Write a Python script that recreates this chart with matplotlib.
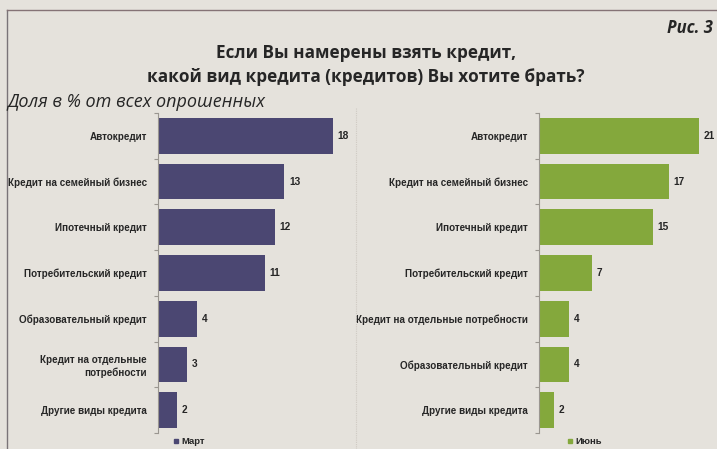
import matplotlib
matplotlib.use("Agg")
import matplotlib.pyplot as plt
from matplotlib.lines import Line2D

# ---- data ----
cats_march = ["Автокредит", "Кредит на семейный бизнес", "Ипотечный кредит",
              "Потребительский кредит", "Образовательный кредит",
              "Кредит на отдельные\nпотребности", "Другие виды кредита"]
vals_march = [18, 13, 12, 11, 4, 3, 2]

cats_june = ["Автокредит", "Кредит на семейный бизнес", "Ипотечный кредит",
             "Потребительский кредит", "Кредит на отдельные потребности",
             "Образовательный кредит", "Другие виды кредита"]
vals_june = [21, 17, 15, 7, 4, 4, 2]

series_names = ["Март", "Июнь"]
title = "Если Вы намерены взять кредит,\nкакой вид кредита (кредитов) Вы хотите брать?"
subtitle = "Доля в % от всех опрошенных"
fig_label = "Рис. 3"

BG = "#e5e2dc"
C_MARCH = "#4b4772"
C_JUNE = "#84a83c"
TXT = "#262626"

W, H = 717, 449
fig = plt.figure(figsize=(W / 100, H / 100), dpi=100, facecolor=BG)

def fx(px):
    return px / W

def fy(py):
    return 1 - py / H

# frame lines
fig.add_artist(Line2D([fx(7), fx(7)], [fy(10), 0], color="#7a7478", lw=1.0))
fig.add_artist(Line2D([fx(7), 1], [fy(10), fy(10)], color="#857376", lw=1.0))
fig.add_artist(Line2D([fx(356), fx(356)], [fy(108), 0], color="#cfcac3", lw=0.8, ls=(0, (1, 1))))

ax_top, ax_bot = 113, 433

def panel(left_px, right_px, px_per_unit, cats, vals, color, name, leg_x):
    ax = fig.add_axes([fx(left_px), fy(ax_bot), fx(right_px - left_px),
                       (ax_bot - ax_top) / H])
    ax.set_facecolor("none")
    n = len(cats)
    y = list(range(n))
    ax.barh(y, vals, height=0.78, color=color)
    ax.set_ylim(n - 0.5, -0.5)
    ax.set_xlim(0, (right_px - left_px) / px_per_unit)
    for s in ["top", "right", "bottom"]:
        ax.spines[s].set_visible(False)
    ax.spines["left"].set_color("#9a9690")
    ax.spines["left"].set_linewidth(0.8)
    ax.set_xticks([])
    ax.set_yticks(y)
    ax.set_yticklabels(cats, fontsize=7.1, fontweight="bold", color=TXT,
                       family="Liberation Sans", linespacing=1.3)
    ax.tick_params(axis="y", which="major", length=0, pad=8)
    ax.set_yticks([i - 0.5 for i in range(n + 1)], minor=True)
    ax.tick_params(axis="y", which="minor", length=3, color="#9a9690", width=0.8)
    for yi, v in zip(y, vals):
        ax.text(v + 4.5 / px_per_unit, yi, str(v), va="center", ha="left",
                fontsize=7.3, fontweight="bold", color=TXT, family="Liberation Sans")
    # legend
    fig.add_artist(Line2D([fx(leg_x)], [fy(441)], marker="s", markersize=3.5,
                          color=color, lw=0))
    fig.text(fx(leg_x + 5), fy(441), name, fontsize=6.8, fontweight="bold",
             color=TXT, va="center", ha="left", family="Liberation Sans")
    return ax

panel(158, 350, 175 / 18, cats_march, vals_march, C_MARCH, series_names[0], 176)
panel(539, 712, 160 / 21, cats_june, vals_june, C_JUNE, series_names[1], 570)

fig.text(fx(366), fy(65), title, ha="center", va="center", fontsize=12.3,
         fontweight="bold", color=TXT, family="Open Sans", linespacing=1.45)
fig.text(fx(8), fy(102), subtitle, ha="left", va="center", fontsize=13,
         style="italic", color=TXT, family="Open Sans")
fig.text(fx(713), fy(28), fig_label, ha="right", va="center", fontsize=12,
         style="italic", fontweight="bold", color=TXT, family="Open Sans")

fig.savefig("out.png", dpi=100, facecolor=BG)
